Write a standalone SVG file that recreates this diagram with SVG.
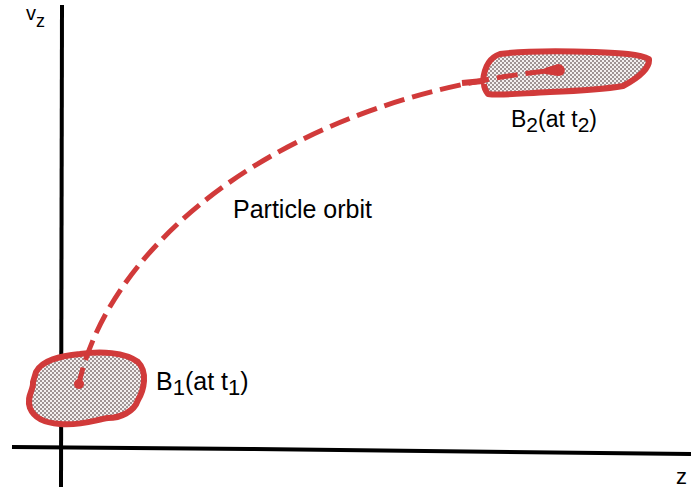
<svg xmlns="http://www.w3.org/2000/svg" width="691" height="489" viewBox="0 0 691 489">
<defs>
<pattern id="stip" width="4" height="4" patternUnits="userSpaceOnUse">
<rect width="4" height="4" fill="#f4f0f0"/>
<rect x="0" y="0" width="2" height="2" fill="#a09494"/>
<rect x="2" y="2" width="2" height="2" fill="#a09494"/>
</pattern>
<style>
.axis{stroke:#000;stroke-width:4;fill:none;stroke-linecap:butt}
.blob{fill:url(#stip);stroke:#d13a3a;stroke-width:6;stroke-linejoin:round}
.orbit{fill:none;stroke:#d13a3a;stroke-width:5;stroke-dasharray:21 8;stroke-linecap:butt}
.lbl{font-family:"Liberation Sans",Arial,sans-serif;fill:#000}
</style>
</defs>
<g id="axes">
<line class="axis" x1="62" y1="5" x2="61" y2="487"/>
<polyline class="axis" points="12,447 250,449 691,454"/>
<text class="lbl" x="26" y="20" font-size="20">v<tspan font-size="18" dy="7">z</tspan></text>
<text class="lbl" x="676" y="484" font-size="22">z</text>
</g>
<g id="B1">
<path class="blob" d="M36,372 C42,360 60,356 80,354 C100,351 125,352 138,362 C148,372 144,390 138,400 C134,412 120,418 108,418 C95,420 80,426 60,424 C45,423 34,418 30,408 C26,396 34,390 33,382 Z"/>
<text class="lbl" x="156" y="390" font-size="25">B<tspan font-size="22" dy="5">1</tspan><tspan dy="-5">(at t</tspan><tspan font-size="22" dy="5">1</tspan><tspan dy="-5">)</tspan></text>
</g>
<g id="B2">
<path class="blob" d="M462,83 L483,81 C484,70 488,58 500,54 C530,50 565,51 595,52 C620,53 640,54 649,59 C650,68 638,78 623,86 C600,90 575,91 550,92 C525,93 500,96 488,94 C485,90 484,86 484,84"/>
<path fill="#d13a3a" d="M545,68 L558,64 C566,64 568,76 558,76 L545,74 Z"/>
<text class="lbl" x="511" y="127" font-size="23">B<tspan font-size="21" dy="5">2</tspan><tspan dy="-5">(at t</tspan><tspan font-size="21" dy="5">2</tspan><tspan dy="-5">)</tspan></text>
</g>
<g id="connectors">
<path class="orbit" d="M78,388 C108,240 290,95 557,70"/>
<circle cx="79" cy="384" r="5" fill="#d13a3a"/>
<text class="lbl" x="233" y="218" font-size="25">Particle orbit</text>
</g>
</svg>
